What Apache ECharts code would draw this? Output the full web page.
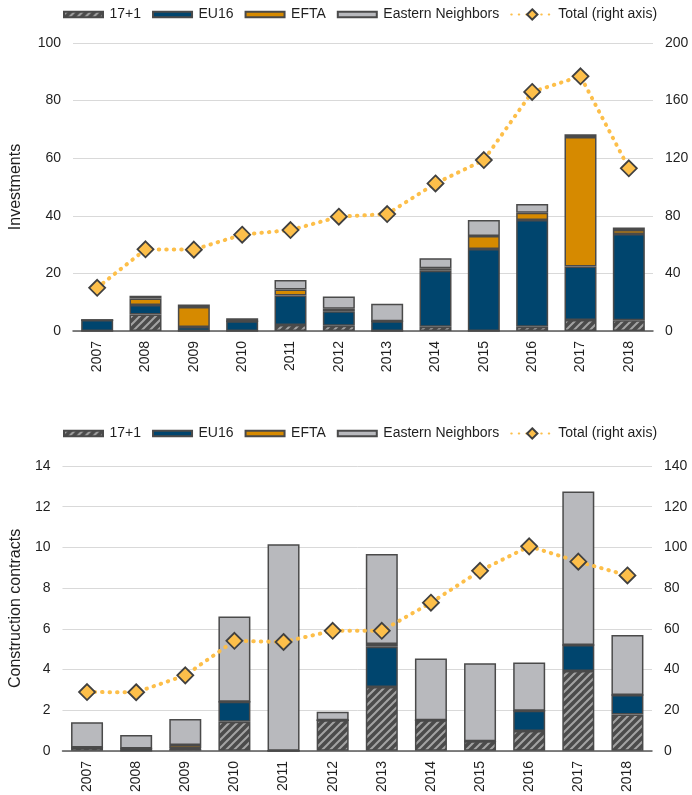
<!DOCTYPE html>
<html>
<head>
<meta charset="utf-8">
<script src="https://cdn.jsdelivr.net/npm/echarts@6/dist/echarts.min.js"></script>
<style>
html,body{margin:0;padding:0;background:#fff;}
#c{width:692px;height:795px;}
</style>
</head>
<body>
<div id="c"></div>
<script>
// ---- data ----
const years = ['2007','2008','2009','2010','2011','2012','2013','2014','2015','2016','2017','2018'];
const seriesNames = ['17+1','EU16','EFTA','Eastern Neighbors','Total (right axis)'];

// Investments (top chart)
const inv171     = [0, 5.7, 0, 0, 2.1, 1.8, 0, 1.5, 0, 1.5, 3.8, 3.7];
const invEU16    = [3.8, 3.3, 1.4, 3.4, 10.2, 5.1, 3.4, 19.4, 28.5, 37.0, 18.6, 30.0];
const invEFTA    = [0, 2.3, 6.9, 0, 2.1, 0.8, 0, 0.9, 4.5, 2.6, 45.0, 1.4];
const invEastern = [0, 0.9, 0.9, 1.0, 3.3, 4.3, 6.1, 3.5, 5.5, 3.0, 0.9, 0.8];
const invTotal   = [30, 56.7, 56.5, 66.9, 70.1, 79.4, 81.2, 102.5, 118.7, 166, 176.9, 113];

// Construction contracts (bottom chart)
const con171     = [0.16, 0, 0.1, 1.43, 0, 1.51, 3.14, 1.51, 0.47, 0.98, 3.92, 1.79];
const conEU16    = [0, 0.12, 0.03, 0.98, 0, 0, 1.98, 0, 0, 0.99, 1.28, 0.96];
const conEFTA    = [0, 0, 0.16, 0, 0, 0, 0.13, 0, 0, 0, 0, 0];
const conEastern = [1.25, 0.66, 1.27, 4.19, 10.15, 0.41, 4.42, 3.03, 3.84, 2.37, 7.55, 2.94];
const conTotal   = [28.9, 28.8, 37.1, 54.1, 53.5, 59.0, 59.0, 72.8, 88.5, 100.5, 93.0, 86.2];

// ---- styles ----
const FONT = 'Liberation Sans, Arial, sans-serif';
const TXT = '#1f1f1f';
const BORDER = '#4a4a4a';

const pat = document.createElement('canvas');
pat.width = 8; pat.height = 8;
(function(){
  const g = pat.getContext('2d');
  g.fillStyle = '#4b4b4b'; g.fillRect(0,0,8,8);
  g.strokeStyle = '#a3a3a3'; g.lineWidth = 2;
  g.beginPath();
  g.moveTo(-2,10); g.lineTo(10,-2);
  g.moveTo(-6,6); g.lineTo(6,-6);
  g.moveTo(2,14); g.lineTo(14,2);
  g.stroke();
})();
const hatch = {image: pat, repeat: 'repeat'};

const barColors = [hatch, '#00456e', '#d68a00', '#b8b9bd'];
const BAR_ICON = 'path://M0,0M0,4L42,4L42,10L0,10ZM42,14';

function bars(dataArr, xi, yi, stack) {
  return dataArr.map((d, i) => ({
    name: seriesNames[i], type: 'bar', stack: stack,
    xAxisIndex: xi, yAxisIndex: yi, data: d, barWidth: 32,
    itemStyle: {color: barColors[i], borderColor: BORDER, borderWidth: 1.5},
    emphasis: {disabled: true}
  }));
}
function totalLine(d, xi, yi) {
  return {
    name: seriesNames[4], type: 'line', xAxisIndex: xi, yAxisIndex: yi, data: d,
    symbol: 'diamond', symbolSize: 16, z: 5,
    lineStyle: {color: '#fdbf4a', width: 4, type: [0.5, 7], cap: 'round'},
    itemStyle: {color: '#fdbf4a', borderColor: '#404040', borderWidth: 1.8},
    emphasis: {disabled: true}
  };
}
function legend(top) {
  return {
    top: top, left: 58, itemWidth: 42, itemHeight: 13, itemGap: 11,
    selectedMode: false,
    data: seriesNames.map((n, i) => i < 4 ? {name: n, icon: BAR_ICON} : {name: n}),
    textStyle: {fontFamily: FONT, fontSize: 14, color: TXT}
  };
}
function xAx(gi) {
  return {
    type: 'category', gridIndex: gi, data: years,
    axisTick: {show: false},
    axisLine: {lineStyle: {color: '#595959', width: 1.5}},
    axisLabel: {rotate: 90, margin: 10, fontFamily: FONT, fontSize: 14, color: TXT}
  };
}
function yAx(gi, max, interval, name, gap, left) {
  return {
    type: 'value', gridIndex: gi, min: 0, max: max, interval: interval,
    position: left ? 'left' : 'right',
    name: name, nameLocation: 'middle', nameGap: gap,
    nameTextStyle: {fontFamily: FONT, fontSize: 16, color: TXT},
    axisLine: {show: false}, axisTick: {show: false},
    splitLine: {show: left, lineStyle: {color: '#d9d9d9', width: 1}},
    axisLabel: {margin: 12, fontFamily: FONT, fontSize: 14, color: TXT}
  };
}

const option = {
  animation: false,
  backgroundColor: '#fff',
  legend: [legend(2), legend(421)],
  grid: [
    {left: 66, right: 39, top: 43, height: 288},
    {left: 62, right: 40, top: 466, height: 287}
  ],
  xAxis: [xAx(0), xAx(1)],
  yAxis: [
    yAx(0, 100, 20, 'Investments', 49, true),
    yAx(0, 200, 40, '', 0, false),
    yAx(1, 14, 2, 'Construction contracts', 35, true),
    yAx(1, 140, 20, '', 0, false)
  ],
  series: [
    ...bars([inv171, invEU16, invEFTA, invEastern], 0, 0, 'top'),
    totalLine(invTotal, 0, 1),
    ...bars([con171, conEU16, conEFTA, conEastern], 1, 2, 'bot'),
    totalLine(conTotal, 1, 3)
  ]
};
const chart = echarts.init(document.getElementById('c'), null, {renderer: 'canvas'});
chart.setOption(option);
</script>
</body>
</html>
